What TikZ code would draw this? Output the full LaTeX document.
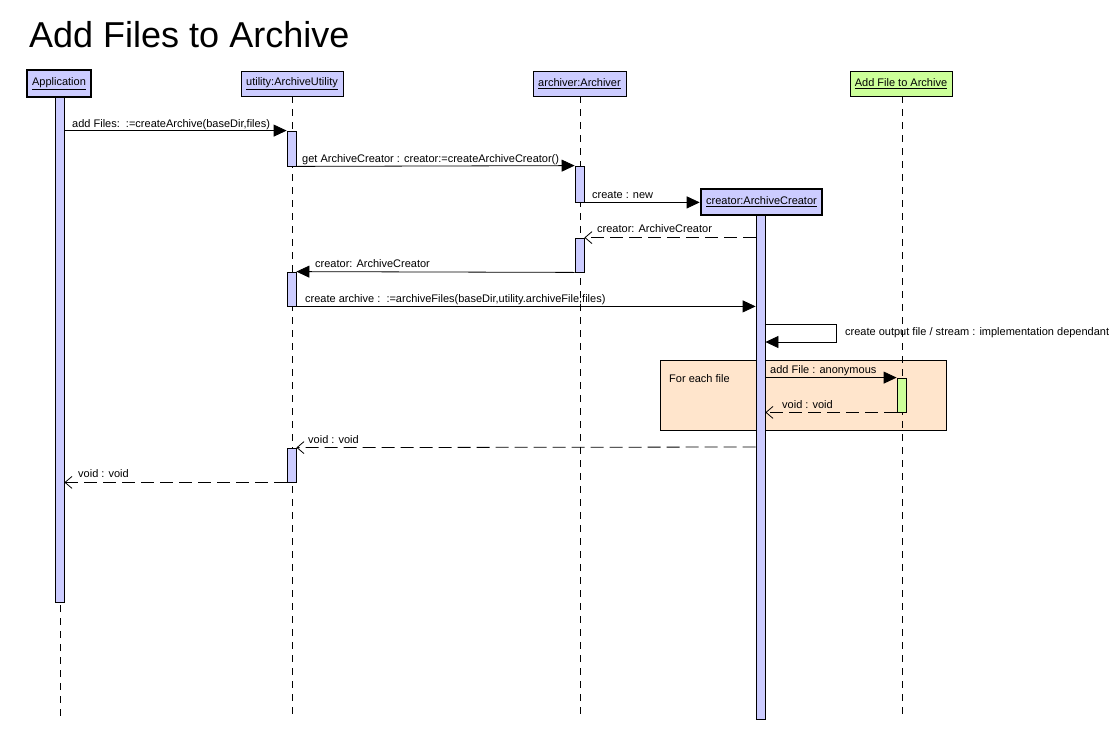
\documentclass[tikz,border=0pt]{standalone}
\usepackage{fontspec}
\setmainfont{Liberation Sans}
\usetikzlibrary{arrows.meta,calc}
\definecolor{barblue}{HTML}{CCCCFF}
\definecolor{bargreen}{HTML}{CCFF99}
\definecolor{loopfill}{HTML}{FFE5CC}
\tikzset{
  txt/.style={font=\fontsize{11}{12}\selectfont},
  obj/.style={draw,fill=barblue,line width=0.8pt,inner sep=0,txt},
  objbold/.style={obj,line width=2.6pt},
  bar/.style={draw,fill=barblue,line width=0.8pt,minimum width=9pt,inner sep=0},
  life/.style={dash pattern=on 7pt off 6pt,line width=0.8pt},
  call/.style={line width=0.8pt,-{Triangle[length=13pt,width=12pt]}},
  ret/.style={line width=0.8pt,dash pattern=on 13pt off 6pt,-{Straight Barb[length=7pt,width=12pt]}},
  lbl/.style={anchor=base west,inner sep=0,txt},
}
\begin{document}
\begin{tikzpicture}[x=1pt,y=-1pt]
\fill[white] (0,0) rectangle (1118,731);
\useasboundingbox (0,0) rectangle (1118,731);
% title
\node[anchor=base west,inner sep=0,font=\fontsize{36}{40}\selectfont] (title) at (29,47) {Add Files to Archive};
% loop frame
\draw[fill=loopfill,line width=0.6pt] (660,360) rectangle (946,430);
\node[lbl] (loopl) at (669,382) {For each file};
% objects
\node[objbold,minimum width=64pt,minimum height=27pt] (app) at (59,83.5) {\underline{Application}};
\node[obj,minimum width=102pt,minimum height=25pt] (util) at (292,83.5) {\underline{utility:ArchiveUtility}};
\node[obj,minimum width=93pt,minimum height=25pt] (arch) at (579.5,83.5) {\underline{archiver:Archiver}};
\node[obj,fill=bargreen,minimum width=102pt,minimum height=25pt] (addf) at (901,83.5) {\underline{Add File to Archive}};
% lifelines
\coordinate (append) at (60,720);
\coordinate (utilend) at (292,720);
\coordinate (archend) at (580,720);
\coordinate (addfend) at (902,720);
\draw[life] (app.south -| append) -- (append);
\draw[life] (util.south -| utilend) -- (utilend);
\draw[life] (arch.south -| archend) -- (archend);
\draw[life] (addf.south -| addfend) -- (addfend);
% creator
\node[objbold,minimum width=121pt,minimum height=26pt] (creator) at (761.5,202) {\underline{creator:ArchiveCreator}};
% activation bars
\node[bar,minimum height=505pt] (appbar) at (59.5,349.5) {};
\node[bar,minimum height=35pt] (u1) at (291.5,148.5) {};
\node[bar,minimum height=34pt] (u2) at (291.5,289) {};
\node[bar,minimum height=34pt] (u3) at (291.5,465) {};
\node[bar,minimum height=36pt] (a1) at (579.5,184) {};
\node[bar,minimum height=34pt] (a2) at (579.5,255) {};
\node[bar,minimum height=504pt] (cbar) at (760.5,467) {};
\node[bar,fill=bargreen,minimum height=34pt] (fbar) at (901.5,395) {};
% messages
\draw[call] (appbar.east |- u1.north) -- (u1.north west);
\node[lbl] (l1) at (72,127) {add Files:\ \ :=createArchive(baseDir,files)};
\draw[call] (u1.south east) -- (a1.north west);
\node[lbl] (l2) at (302,162) {get ArchiveCreator : creator:=createArchiveCreator()};
\draw[call] (a1.south east) -- (creator.west |- a1.south);
\node[lbl] (l3) at (592,198) {create : new};
\draw[ret] (cbar.west |- a2.north) -- (a2.north east);
\node[lbl] (l4) at (597,232) {creator: ArchiveCreator};
\draw[call] (a2.south west) -- (u2.north east);
\node[lbl] (l5) at (315,267) {creator: ArchiveCreator};
\draw[call] (u2.south east) -- (cbar.west |- u2.south);
\node[lbl] (l6) at (305,302) {create archive :\ \ :=archiveFiles(baseDir,utility.archiveFile,files)};
\coordinate (selfturn) at (836,342);
\draw[call] (cbar.east |- 0,324) -| (selfturn) -- (cbar.east |- selfturn);
\node[lbl] (l7) at (845,335) {create output file / stream : implementation dependant};
\draw[call] (cbar.east |- fbar.north) -- (fbar.north west);
\node[lbl] (l9) at (770,373) {add File : anonymous};
\draw[ret] (fbar.south west) -- (cbar.east |- fbar.south);
\node[lbl] (l10) at (782,408) {void : void};
\draw[ret] (cbar.west |- 0,447) -- (u3.north east);
\node[lbl] (l11) at (308,443) {void : void};
\draw[ret] (u3.south west) -- (appbar.east |- u3.south);
\node[lbl] (l12) at (78,477) {void : void};
\end{tikzpicture}
\end{document}
